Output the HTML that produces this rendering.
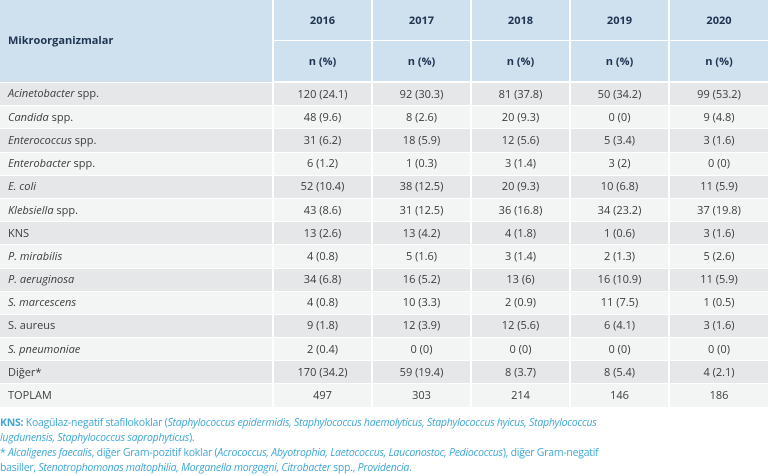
<!DOCTYPE html>
<html><head><meta charset="utf-8"><style>
body{margin:0;width:768px;height:475px;background:#fff;font-family:"Open Sans","Liberation Sans",sans-serif;overflow:hidden}
table{border-collapse:collapse;width:768px;table-layout:fixed;font-size:11px;color:#3c3c3c}
td,th{border-left:2px solid #fff;padding:0;text-align:center}
td{height:22.2px}
.f{border-left:none;text-align:left;padding-left:8px}
th{background:#cfe0ee;color:#1e3450;font-weight:bold;font-size:11px;height:40px}
thead tr:first-child th{border-bottom:1px solid #fff}
thead tr:last-child th{border-bottom:2px solid #fff}
tbody tr:nth-child(odd) td{background:#e6e7e8}
tbody tr:nth-child(even) td{background:#f3f4f4}
tbody td{border-bottom:1px solid #fff}
.n{font-size:10.5px;color:#3fa7d6;line-height:15px;padding:8px 0 0 0;width:600px;letter-spacing:-0.25px}
</style></head><body>
<table>
<colgroup><col style="width:273px"><col><col><col><col><col></colgroup>
<thead>
<tr><th rowspan="2" class="f">Mikroorganizmalar</th><th>2016</th><th>2017</th><th>2018</th><th>2019</th><th>2020</th></tr>
<tr><th>n (%)</th><th>n (%)</th><th>n (%)</th><th>n (%)</th><th>n (%)</th></tr>
</thead>
<tbody>
<tr><td class="f"><i>Acinetobacter</i> spp.</td><td>120 (24.1)</td><td>92 (30.3)</td><td>81 (37.8)</td><td>50 (34.2)</td><td>99 (53.2)</td></tr>
<tr><td class="f"><i>Candida</i> spp.</td><td>48 (9.6)</td><td>8 (2.6)</td><td>20 (9.3)</td><td>0 (0)</td><td>9 (4.8)</td></tr>
<tr><td class="f"><i>Enterococcus</i> spp.</td><td>31 (6.2)</td><td>18 (5.9)</td><td>12 (5.6)</td><td>5 (3.4)</td><td>3 (1.6)</td></tr>
<tr><td class="f"><i>Enterobacter</i> spp.</td><td>6 (1.2)</td><td>1 (0.3)</td><td>3 (1.4)</td><td>3 (2)</td><td>0 (0)</td></tr>
<tr><td class="f"><i>E. coli</i></td><td>52 (10.4)</td><td>38 (12.5)</td><td>20 (9.3)</td><td>10 (6.8)</td><td>11 (5.9)</td></tr>
<tr><td class="f"><i>Klebsiella</i> spp.</td><td>43 (8.6)</td><td>31 (12.5)</td><td>36 (16.8)</td><td>34 (23.2)</td><td>37 (19.8)</td></tr>
<tr><td class="f">KNS</td><td>13 (2.6)</td><td>13 (4.2)</td><td>4 (1.8)</td><td>1 (0.6)</td><td>3 (1.6)</td></tr>
<tr><td class="f"><i>P. mirabilis</i></td><td>4 (0.8)</td><td>5 (1.6)</td><td>3 (1.4)</td><td>2 (1.3)</td><td>5 (2.6)</td></tr>
<tr><td class="f"><i>P. aeruginosa</i></td><td>34 (6.8)</td><td>16 (5.2)</td><td>13 (6)</td><td>16 (10.9)</td><td>11 (5.9)</td></tr>
<tr><td class="f"><i>S. marcescens</i></td><td>4 (0.8)</td><td>10 (3.3)</td><td>2 (0.9)</td><td>11 (7.5)</td><td>1 (0.5)</td></tr>
<tr><td class="f">S. aureus</td><td>9 (1.8)</td><td>12 (3.9)</td><td>12 (5.6)</td><td>6 (4.1)</td><td>3 (1.6)</td></tr>
<tr><td class="f"><i>S. pneumoniae</i></td><td>2 (0.4)</td><td>0 (0)</td><td>0 (0)</td><td>0 (0)</td><td>0 (0)</td></tr>
<tr><td class="f">Diğer*</td><td>170 (34.2)</td><td>59 (19.4)</td><td>8 (3.7)</td><td>8 (5.4)</td><td>4 (2.1)</td></tr>
<tr><td class="f">TOPLAM</td><td>497</td><td>303</td><td>214</td><td>146</td><td>186</td></tr>
</tbody>
</table>
<div class="n"><b>KNS:</b> Koagülaz-negatif stafilokoklar (<i>Staphylococcus epidermidis, Staphylococcus haemolyticus, Staphylococcus hyicus, Staphylococcus</i><br><i>lugdunensis, Staphylococcus saprophyticus</i>).<br>* <i>Alcaligenes faecalis</i>, diğer Gram-pozitif koklar (<i>Acrococcus, Abyotrophia, Laetococcus, Lauconostoc, Pediococcus</i>), diğer Gram-negatif<br>basiller, <i>Stenotrophomonas maltophilia, Morganella morgagni, Citrobacter</i> spp., <i>Providencia</i>.</div>
</body></html>
